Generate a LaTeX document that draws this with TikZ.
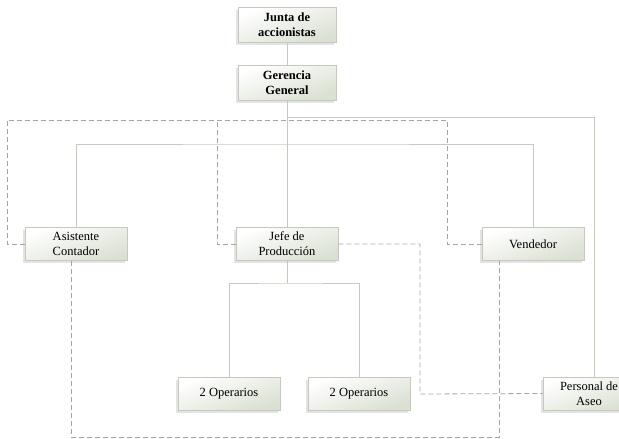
\documentclass[tikz,border=0pt]{standalone}
\usepackage{fontspec}
\setmainfont{Liberation Serif}
\usetikzlibrary{shadows}
\definecolor{boxborder}{RGB}{196,201,186}
\definecolor{boxfill}{RGB}{218,224,210}
\definecolor{solidline}{RGB}{200,201,188}
\definecolor{dashline}{RGB}{165,165,165}
\begin{document}
\begin{tikzpicture}[x=1pt,y=-1pt,
  orgbox/.style={draw=boxborder, line width=0.8pt, shading=axis, top color=white, bottom color=boxfill, shading angle=20,
    minimum width=102pt, minimum height=33pt, align=center, inner sep=1pt,
    font=\fontsize{12.5}{15}\selectfont,
    drop shadow={shadow xshift=-2.5pt, shadow yshift=-2.5pt, opacity=0.15, fill=black!70}},
  bossbox/.style={orgbox, minimum width=98pt, minimum height=35pt, font=\fontsize{12.5}{15}\selectfont\bfseries},
  solidconn/.style={draw=solidline, line width=1pt},
  dashconn/.style={draw=dashline, line width=0.8pt, dash pattern=on 5pt off 3pt}
]
\useasboundingbox (0,0) rectangle (619,439);

% named coordinates for line bends
\coordinate (b1) at (287,144);
\coordinate (b2) at (287,117);
\coordinate (b3) at (287,283);
\coordinate (c1) at (7,120);
\coordinate (c2) at (447,120);
\coordinate (c5) at (217,120);
\coordinate (c3) at (420,394);
\coordinate (c4) at (499,437);

\node[bossbox] (junta) at (287,24.5) {Junta de\\accionistas};
\node[bossbox] (ger) at (287,82.5) {Gerencia\\General};
\node[orgbox] (asis) at (76,244) {Asistente\\Contador};
\node[orgbox] (jefe) at (287,244) {Jefe de\\Producción};
\node[orgbox] (ven) at (533,244) {Vendedor};
\node[orgbox] (op1) at (229,393.5) {2 Operarios};
\node[orgbox] (op2) at (359,393.5) {2 Operarios};
\node[orgbox, minimum width=92pt] (pers) at (589,393.5) {Personal de\\Aseo};

% solid connectors
\draw[solidconn] (junta.south) -- (ger.north);
\draw[solidconn] (ger.south) -- (jefe.north);
\draw[solidconn] (asis.north) |- (b1) -| (ven.north);
\draw[solidconn] (b2) -| ([xshift=5pt]pers.north);
\draw[solidconn] (jefe.south) -- (b3);
\draw[solidconn] (op1.north) |- (b3) -| (op2.north);

% dashed connectors
\draw[dashconn] (asis.west) -| (c1) -- (c2) |- (ven.west);
\draw[dashconn] (jefe.west) -| (c5);
\draw[dashconn] (jefe.east) -| (c3) -- (pers.west);
\draw[dashconn] ([xshift=-5pt]asis.south) |- (c4) -| ([xshift=-34pt]ven.south);
\end{tikzpicture}
\end{document}
